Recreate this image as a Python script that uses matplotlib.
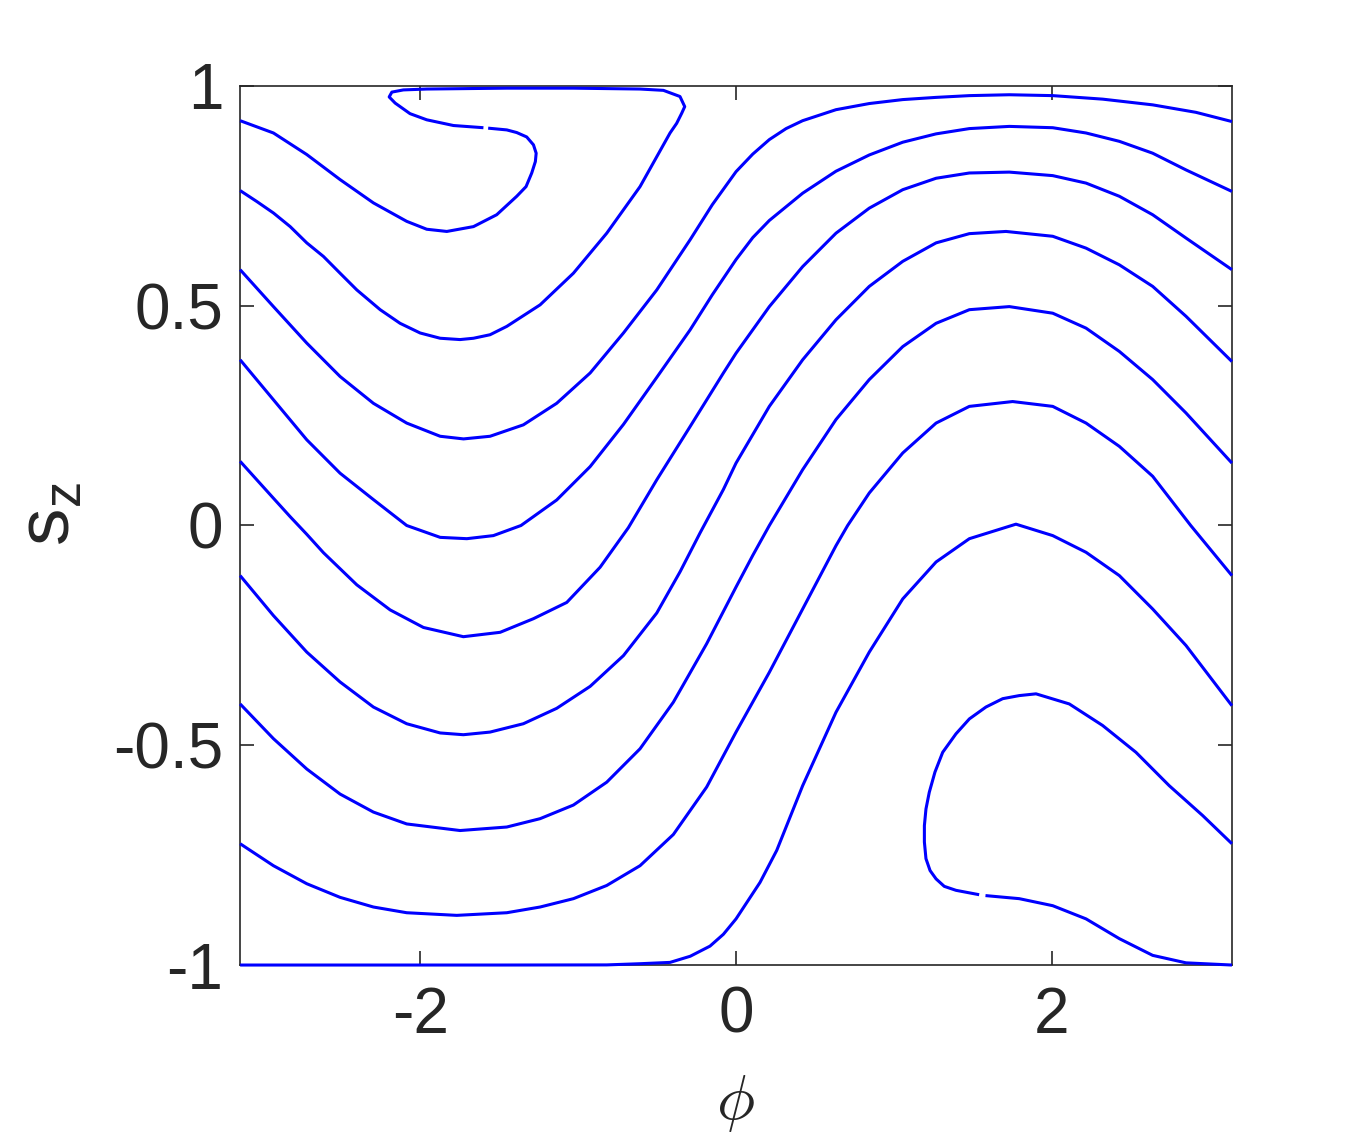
import numpy as np
import matplotlib
matplotlib.use('Agg')
import matplotlib.pyplot as plt

plt.rcParams['font.family'] = ['Liberation Sans', 'DejaVu Sans']

# one long orbit (phi, s_z), split where it wraps at +-pi
fold_a = [(-3.141, 0.921), (-2.930, 0.893), (-2.719, 0.844), (-2.508, 0.787), (-2.297, 0.734),
          (-2.086, 0.692), (-1.959, 0.674), (-1.832, 0.669), (-1.663, 0.680), (-1.516, 0.707),
          (-1.389, 0.749), (-1.330, 0.771), (-1.294, 0.802), (-1.271, 0.828), (-1.266, 0.847),
          (-1.283, 0.866), (-1.326, 0.884), (-1.389, 0.894), (-1.452, 0.900), (-1.570, 0.904)]
fold_b = [(-1.600, 0.905), (-1.790, 0.910), (-1.959, 0.923), (-2.065, 0.937), (-2.159, 0.961),
          (-2.197, 0.975), (-2.180, 0.986), (-2.107, 0.991), (-1.959, 0.993), (-1.452, 0.995),
          (-1.030, 0.995), (-0.608, 0.993), (-0.460, 0.990), (-0.355, 0.976), (-0.325, 0.953),
          (-0.344, 0.938), (-0.376, 0.915), (-0.418, 0.893), (-0.608, 0.771), (-0.819, 0.665),
          (-1.030, 0.574), (-1.241, 0.502), (-1.452, 0.453), (-1.558, 0.434), (-1.663, 0.426),
          (-1.748, 0.423), (-1.874, 0.426), (-2.001, 0.438), (-2.128, 0.460), (-2.254, 0.491),
          (-2.402, 0.536), (-2.508, 0.574), (-2.613, 0.612), (-2.719, 0.643), (-2.824, 0.680),
          (-2.930, 0.711), (-3.035, 0.737), (-3.141, 0.762)]
wave1 = [(-3.141, 0.582), (-2.930, 0.498), (-2.719, 0.415), (-2.508, 0.339), (-2.297, 0.278),
         (-2.086, 0.233), (-1.874, 0.203), (-1.726, 0.197), (-1.558, 0.203), (-1.347, 0.229),
         (-1.136, 0.278), (-0.924, 0.347), (-0.713, 0.438), (-0.502, 0.536), (-0.291, 0.650),
         (-0.150, 0.730), (0.0, 0.805), (0.106, 0.845), (0.211, 0.878), (0.317, 0.903),
         (0.422, 0.921), (0.633, 0.946), (0.844, 0.960), (1.056, 0.969), (1.267, 0.974),
         (1.478, 0.978), (1.731, 0.980), (2.006, 0.978), (2.322, 0.970), (2.639, 0.957),
         (2.913, 0.940), (3.141, 0.919)]
wave2 = [(-3.141, 0.377), (-2.930, 0.286), (-2.719, 0.195), (-2.508, 0.119), (-2.297, 0.059),
         (-2.086, 0.0), (-1.874, -0.027), (-1.705, -0.030), (-1.537, -0.023), (-1.362, 0.0),
         (-1.136, 0.058), (-0.924, 0.134), (-0.713, 0.230), (-0.502, 0.337), (-0.291, 0.445),
         (-0.150, 0.525), (0.0, 0.605), (0.106, 0.655), (0.211, 0.694), (0.422, 0.756),
         (0.633, 0.806), (0.844, 0.843), (1.056, 0.872), (1.267, 0.891), (1.478, 0.903),
         (1.731, 0.908), (2.006, 0.905), (2.217, 0.893), (2.428, 0.874), (2.639, 0.847),
         (2.850, 0.809), (3.141, 0.760)]
wave3 = [(-3.141, 0.146), (-2.930, 0.062), (-2.824, 0.020), (-2.719, -0.020), (-2.613, -0.062),
         (-2.402, -0.135), (-2.191, -0.192), (-1.980, -0.232), (-1.727, -0.253), (-1.494, -0.243),
         (-1.283, -0.212), (-1.072, -0.175), (-0.861, -0.095), (-0.682, -0.005), (-0.502, 0.104),
         (-0.291, 0.225), (-0.080, 0.347), (0.0, 0.392), (0.211, 0.498), (0.422, 0.589),
         (0.633, 0.665), (0.844, 0.722), (1.056, 0.764), (1.267, 0.790), (1.478, 0.802),
         (1.731, 0.804), (2.006, 0.796), (2.217, 0.779), (2.428, 0.749), (2.639, 0.707),
         (2.850, 0.654), (3.141, 0.582)]
wave4 = [(-3.141, -0.114), (-2.930, -0.205), (-2.719, -0.288), (-2.508, -0.356), (-2.297, -0.413),
         (-2.086, -0.451), (-1.874, -0.472), (-1.727, -0.476), (-1.558, -0.470), (-1.347, -0.451),
         (-1.136, -0.416), (-0.924, -0.366), (-0.713, -0.296), (-0.502, -0.199), (-0.354, -0.105),
         (-0.228, -0.017), (-0.080, 0.082), (0.0, 0.142), (0.211, 0.271), (0.422, 0.377),
         (0.633, 0.468), (0.844, 0.544), (1.056, 0.601), (1.267, 0.643), (1.478, 0.664),
         (1.710, 0.669), (2.006, 0.658), (2.217, 0.631), (2.428, 0.593), (2.639, 0.544),
         (2.850, 0.476), (3.141, 0.373)]
wave5 = [(-3.141, -0.406), (-2.930, -0.485), (-2.719, -0.554), (-2.508, -0.611), (-2.297, -0.652),
         (-2.086, -0.679), (-1.748, -0.694), (-1.452, -0.686), (-1.241, -0.667), (-1.030, -0.636),
         (-0.819, -0.584), (-0.608, -0.508), (-0.397, -0.402), (-0.186, -0.269), (0.0, -0.140),
         (0.106, -0.068), (0.211, 0.0), (0.422, 0.127), (0.633, 0.241), (0.844, 0.332),
         (1.056, 0.407), (1.267, 0.460), (1.478, 0.491), (1.731, 0.498), (2.006, 0.483),
         (2.217, 0.449), (2.428, 0.396), (2.639, 0.332), (2.850, 0.256), (3.141, 0.142)]
wave6 = [(-3.141, -0.724), (-2.930, -0.774), (-2.719, -0.815), (-2.508, -0.846), (-2.297, -0.868),
         (-2.086, -0.881), (-1.769, -0.887), (-1.452, -0.881), (-1.241, -0.868), (-1.030, -0.849),
         (-0.819, -0.819), (-0.608, -0.774), (-0.397, -0.703), (-0.186, -0.595), (0.0, -0.470),
         (0.211, -0.334), (0.422, -0.190), (0.633, -0.046), (0.707, 0.0), (0.844, 0.074),
         (1.056, 0.165), (1.267, 0.233), (1.478, 0.271), (1.752, 0.282), (2.006, 0.271),
         (2.217, 0.233), (2.428, 0.180), (2.639, 0.112), (2.880, 0.0), (3.141, -0.114)]
wave7 = [(-3.141, -1.0), (-1.5, -1.0), (-0.819, -0.9997), (-0.608, -0.997), (-0.418, -0.994),
         (-0.290, -0.980), (-0.165, -0.957), (-0.080, -0.930), (0.0, -0.895), (0.152, -0.812),
         (0.258, -0.739), (0.422, -0.592), (0.633, -0.425), (0.844, -0.288), (1.056, -0.167),
         (1.267, -0.083), (1.478, -0.030), (1.773, 0.003), (2.006, -0.023), (2.217, -0.061),
         (2.428, -0.114), (2.639, -0.190), (2.850, -0.273), (3.141, -0.410)]
loop_a = [(3.141, -0.724), (2.956, -0.660), (2.744, -0.592), (2.533, -0.516), (2.322, -0.455),
          (2.111, -0.406), (1.900, -0.383), (1.794, -0.387), (1.689, -0.394), (1.583, -0.413),
          (1.478, -0.440), (1.393, -0.474), (1.309, -0.516), (1.260, -0.561), (1.224, -0.607),
          (1.203, -0.645), (1.193, -0.683), (1.193, -0.720), (1.203, -0.758), (1.229, -0.785),
          (1.267, -0.804), (1.319, -0.821), (1.393, -0.830), (1.540, -0.840)]
loop_b = [(1.580, -0.842), (1.794, -0.849), (2.006, -0.865), (2.217, -0.895), (2.428, -0.940),
          (2.639, -0.978), (2.850, -0.995), (3.141, -1.0)]

strands = [fold_a, fold_b, wave1, wave2, wave3, wave4, wave5, wave6, wave7, loop_a, loop_b]

xticks = [-2, 0, 2]
xticklabels = ['-2', '0', '2']
yticks = [-1, -0.5, 0, 0.5, 1]
yticklabels = ['-1', '-0.5', '0', '0.5', '1']

fig = plt.figure(figsize=(13.6, 11.34), dpi=100)
ax = fig.add_axes([0.1765, 0.149, 0.7294, 0.7752])

for st in strands:
    pts = np.array(st)
    ax.plot(pts[:, 0], pts[:, 1], color='#0000ff', lw=2.2, clip_on=False, zorder=3,
            solid_joinstyle='round', solid_capstyle='butt')

ax.set_xlim(-np.pi, np.pi)
ax.set_ylim(-1, 1)
ax.set_xticks(xticks)
ax.set_xticklabels(xticklabels)
ax.set_yticks(yticks)
ax.set_yticklabels(yticklabels)
ax.tick_params(direction='in', length=10, width=1.2, color='#262626', labelcolor='#262626',
               labelsize=46, top=True, right=True)
ax.tick_params(axis='x', pad=15)
ax.tick_params(axis='y', pad=12)
for sp in ax.spines.values():
    sp.set_color('#262626')
    sp.set_linewidth(1.2)

fig.text(0.037, 0.547, 's$_\\mathregular{z}$', rotation=90, fontsize=54,
         ha='center', va='center', color='#262626')
fig.text(0.541, 0.027, r'$\phi$', fontsize=46, math_fontfamily='cm',
         ha='center', va='center', color='#262626')

fig.savefig('out.png', dpi=100, facecolor='white')
